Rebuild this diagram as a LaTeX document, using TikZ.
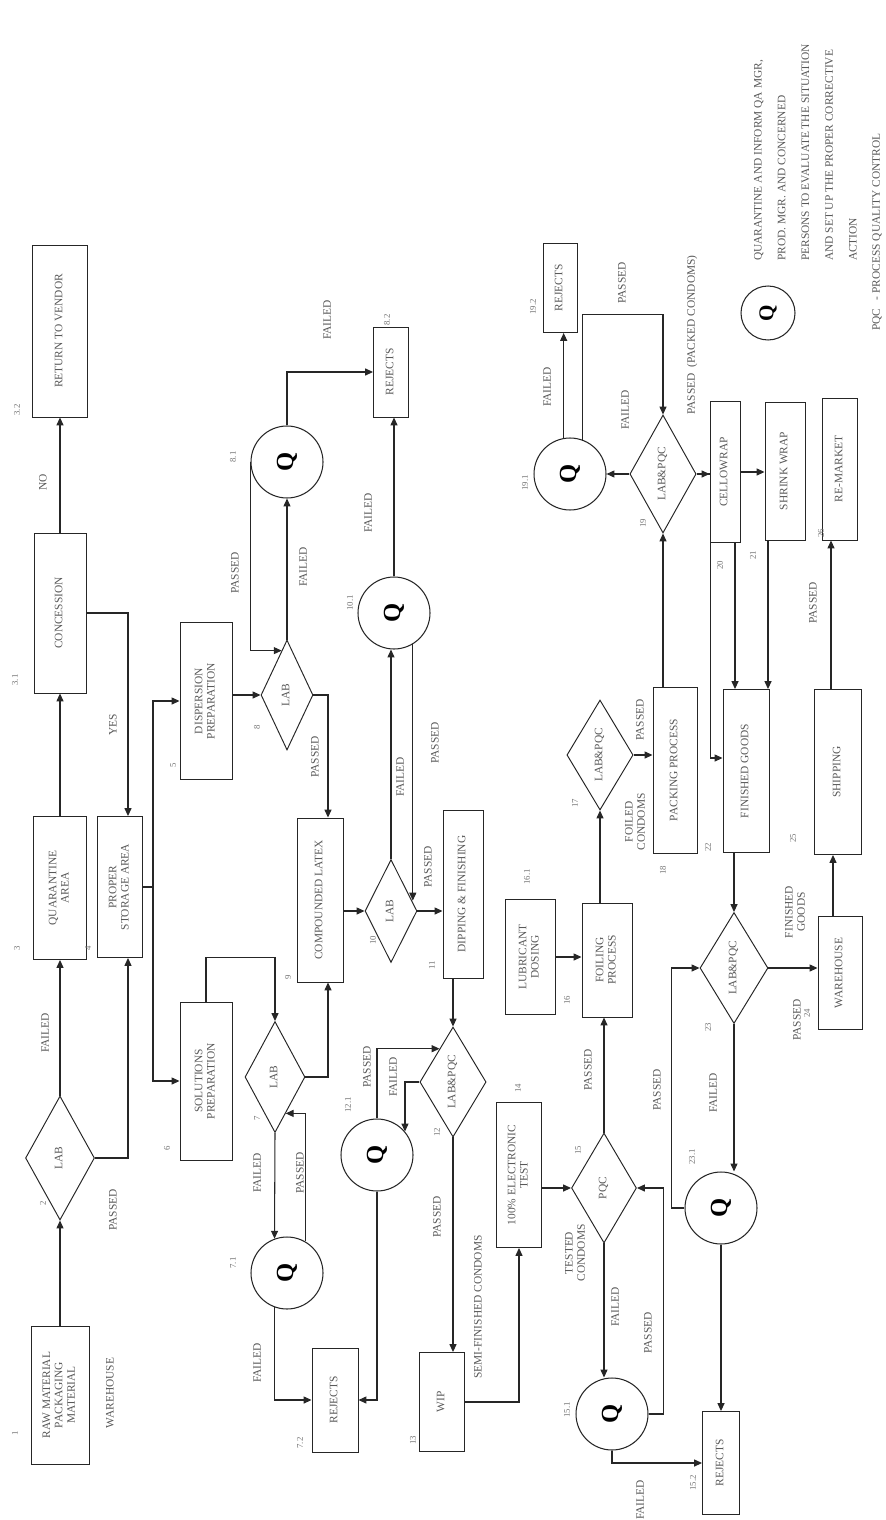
\documentclass[tikz,border=0pt]{standalone}
\usepackage{fontspec}
\setmainfont{Liberation Serif}
\usetikzlibrary{shapes.geometric, arrows.meta, calc}
\newcommand{\vt}[1]{\rotatebox{90}{\begin{tabular}{@{}c@{}}#1\end{tabular}}}

\begin{document}
\begin{tikzpicture}[
  x=0.02cm, y=-0.02cm,
  box/.style={draw=black!85, line width=0.55pt, inner sep=0pt, font=\fontsize{6.5}{7}\selectfont, text=black!65},
  dec/.style={diamond, draw=black!85, line width=0.55pt, inner sep=0pt, font=\fontsize{6.5}{7}\selectfont, text=black!65},
  qc/.style={circle, draw=black!85, line width=0.6pt, minimum size=1.44cm, inner sep=0pt, font=\fontsize{14}{14}\selectfont\bfseries},
  lbl/.style={rotate=90, font=\fontsize{6.5}{7}\selectfont, text=black!65, inner sep=1pt, align=center},
  num/.style={rotate=90, font=\fontsize{5}{6}\selectfont, text=black!55, inner sep=0pt},
  arr/.style={-{Triangle[length=4.5pt,width=4pt]}, draw=black!85, line width=0.6pt},
]
  \useasboundingbox (0,0) rectangle (885,1520);

  % Raw material column
  \node[box, minimum width=1.16cm, minimum height=2.76cm] (raw) at (60,1395) {\vt{RAW MATERIAL\\PACKAGING\\MATERIAL}};
  \node[dec, minimum width=1.38cm, minimum height=2.48cm] (lab2) at (60,1158) {\vt{LAB}};
  \node[box, minimum width=1.06cm, minimum height=2.86cm] (quar) at (60,888) {\vt{QUARANTINE\\AREA}};
  \node[box, minimum width=1.04cm, minimum height=3.2cm] (conc) at (60,613) {\vt{CONCESSION}};
  \node[box, minimum width=1.1cm, minimum height=3.44cm] (ret) at (60,331) {\vt{RETURN TO VENDOR}};
  \node[box, minimum width=0.9cm, minimum height=2.82cm] (stor) at (120,887) {\vt{PROPER\\STORAGE AREA}};

  % Preparation
  \node[box, minimum width=1.04cm, minimum height=3.16cm] (sol) at (206,1081) {\vt{SOLUTIONS\\PREPARATION}};
  \node[box, minimum width=1.04cm, minimum height=3.14cm] (disp) at (206,701) {\vt{DISPERSION\\PREPARATION}};
  \node[dec, minimum width=1.2cm, minimum height=2.22cm] (lab7) at (275,1077) {\vt{LAB}};
  \node[dec, minimum width=1.04cm, minimum height=2.2cm] (lab8) at (287,695) {\vt{LAB}};
  \node[qc] (q71) at (287,1273) {\rotatebox{90}{Q}};
  \node[qc] (q81) at (287,462) {\rotatebox{90}{Q}};
  \node[box, minimum width=0.92cm, minimum height=2.08cm] (rej72) at (335,1400) {\vt{REJECTS}};
  \node[box, minimum width=0.7cm, minimum height=1.8cm] (rej82) at (391,372) {\vt{REJECTS}};

  % Compounding and dipping
  \node[box, minimum width=0.92cm, minimum height=3.28cm] (comp) at (320,900) {\vt{COMPOUNDED LATEX}};
  \node[dec, minimum width=1.04cm, minimum height=2.06cm] (lab10) at (391,911) {\vt{LAB}};
  \node[qc] (q101) at (394,613) {\rotatebox{90}{Q}};
  \node[box, minimum width=0.8cm, minimum height=3.36cm] (dip) at (463,894) {\vt{DIPPING \& FINISHING}};
  \node[dec, minimum width=1.06cm, minimum height=2.2cm] (lq12) at (453,1082) {\vt{LAB\&PQC}};
  \node[qc] (q121) at (377,1155) {\rotatebox{90}{Q}};
  \node[box, minimum width=0.9cm, minimum height=1.98cm] (wip) at (442,1402) {\vt{WIP}};

  % Testing and foiling
  \node[box, minimum width=0.9cm, minimum height=2.9cm] (elec) at (519,1175) {\vt{100\% ELECTRONIC\\TEST}};
  \node[dec, minimum width=1.3cm, minimum height=2.2cm] (pqc15) at (604,1188) {\vt{PQC}};
  \node[qc] (q151) at (612,1414) {\rotatebox{90}{Q}};
  \node[box, minimum width=0.74cm, minimum height=2.06cm] (rej152) at (721,1463) {\vt{REJECTS}};
  \node[box, minimum width=1.0cm, minimum height=2.3cm] (lub) at (530,957) {\vt{LUBRICANT\\DOSING}};
  \node[box, minimum width=1.0cm, minimum height=2.28cm] (foil) at (607,960) {\vt{FOILING\\PROCESS}};
  \node[dec, minimum width=1.28cm, minimum height=2.2cm] (lq17) at (600,755) {\vt{LAB\&PQC}};

  % Packing
  \node[box, minimum width=0.88cm, minimum height=3.32cm] (pack) at (675,770) {\vt{PACKING PROCESS}};
  \node[dec, minimum width=1.04cm, minimum height=2.36cm] (lq19) at (663,474) {\vt{LAB\&PQC}};
  \node[qc] (q191) at (570,474) {\rotatebox{90}{Q}};
  \node[box, minimum width=0.68cm, minimum height=1.78cm] (rej192) at (560,288) {\vt{REJECTS}};
  \node[box, minimum width=0.6cm, minimum height=2.82cm] (cello) at (725,472) {\vt{CELLOWRAP}};
  \node[box, minimum width=0.8cm, minimum height=2.76cm] (shrink) at (785,471) {\vt{SHRINK WRAP}};

  % Finished goods
  \node[box, minimum width=0.92cm, minimum height=3.26cm] (fin) at (746,771) {\vt{FINISHED GOODS}};
  \node[dec, minimum width=1.36cm, minimum height=2.22cm] (lq23) at (734,968) {\vt{LAB\&PQC}};
  \node[qc] (q231) at (721,1208) {\rotatebox{90}{Q}};
  \node[box, minimum width=0.88cm, minimum height=2.26cm] (ware) at (840,973) {\vt{WAREHOUSE}};
  \node[box, minimum width=0.94cm, minimum height=3.3cm] (ship) at (838,772) {\vt{SHIPPING}};
  \node[box, minimum width=0.7cm, minimum height=2.84cm] (remk) at (840,469) {\vt{RE-MARKET}};

  % Connections
  \draw[arr] (raw) -- (lab2);
  \draw[arr] (lab2) -- (quar);
  \draw[arr] (quar) -- (conc);
  \draw[arr] (conc) -- (ret);
  \draw[arr] (conc.east) -| ([xshift=0.16cm]stor.north);
  \draw[arr] (lab2.east) -| ([xshift=0.16cm]stor.south);
  \draw[arr] (stor.east) -- ++(10,0) |- (disp.west);
  \draw[arr] (stor.east) -- ++(10,0) |- (sol.west);

  \draw[arr] (sol.north) -- ++(0,-44) -| (lab7.north);
  \draw[arr] (lab7.south) -- (q71.110);
  \coordinate (p7) at ($(lab7.south)!0.35!(lab7.east)$);
  \draw[arr] (q71.60) |- (p7);
  \draw[arr] (q71.-110) |- (rej72.west);
  \draw[arr] (lab7.east) -| ([xshift=0.16cm]comp.south);

  \draw[arr] (disp.east |- lab8.west) -- (lab8.west);
  \draw[arr] (lab8.north) -- (q81.south);
  \draw[arr] (q81.north) |- (rej82.west);
  \coordinate (p8) at ($(lab8.west)!0.8!(lab8.north)$);
  \draw[arr] (q81.west) |- (p8);
  \draw[arr] (lab8.east) -| ([xshift=0.16cm]comp.north);

  \draw[arr] (comp.east |- lab10.west) -- (lab10.west);
  \draw[arr] (lab10.north) -- (lab10.north |- q101.south);
  \coordinate (p10) at ($(lab10.north)!0.8!(lab10.east)$);
  \draw[arr] (q101.-59) -- (q101.-59 |- p10);
  \draw[arr] (q101.north) -- (q101.north |- rej82.south);
  \draw[arr] (lab10.east) -- (lab10.east -| dip.west);
  \draw[arr] (lq12.north |- dip.south) -- (lq12.north);

  \draw[arr] (lq12.south) -- (lq12.south |- wip.north);
  \coordinate (p12) at ($(lq12.west)!0.6!(lq12.north)$);
  \draw[arr] (q121.north) |- (p12);
  \draw[arr] (lq12.west) -| (q121.40);
  \draw[arr] (q121.south) |- (rej72.east);

  \draw[arr] (wip.east) -| (elec.south);
  \draw[arr] (elec.east |- pqc15.west) -- (pqc15.west);
  \draw[arr] (pqc15.south) -- (pqc15.south |- q151.north);
  \draw[arr] (q151.east) -- ++(15,0) |- (pqc15.east);
  \draw[arr] (q151.south) |- (rej152.west);
  \draw[arr] (pqc15.north) -- (pqc15.north |- foil.south);

  \draw[arr] (lub.east) -- (lub.east -| foil.west);
  \draw[arr] (lq17.south |- foil.north) -- (lq17.south);
  \draw[arr] (lq17.east) -- (lq17.east -| pack.west);
  \draw[arr] (lq19.south |- pack.north) -- (lq19.south);
  \draw[arr] (lq19.west) -- (q191.east);
  \draw[arr] (q191.100) -- (q191.100 |- rej192.south);
  \draw[arr] (q191.70) -- ++(0,-125) -| (lq19.north);
  \draw[arr] (lq19.east) -- (lq19.east -| cello.west);
  \draw[arr] (lq19.east) -- ++(14,0) |- ([yshift=0.26cm]fin.west);
  \draw[arr] (cello.east) -- (cello.east -| shrink.west);
  \draw[arr] ([xshift=0.2cm]cello.south) -- ([xshift=0.2cm]cello.south |- fin.north);
  \draw[arr] ([xshift=-0.34cm]shrink.south) -- ([xshift=-0.34cm]shrink.south |- fin.north);

  \draw[arr] (lq23.north |- fin.south) -- (lq23.north);
  \draw[arr] (lq23.south) -- (lq23.south |- q231.north);
  \draw[arr] (q231.west) -- ++(-13,0) |- (lq23.west);
  \draw[arr] (q231.south) -- (q231.south |- rej152.north);
  \draw[arr] (lq23.east) -- (lq23.east -| ware.west);
  \draw[arr] ([xshift=-0.14cm]ware.north) -- ([xshift=-0.14cm]ware.north |- ship.south);
  \draw[arr] ([xshift=-0.14cm]ship.north) -- ([xshift=-0.14cm]ship.north |- remk.south);

  % Labels
  \node[lbl] (tware) at (110,1393) {WAREHOUSE};
  \node[lbl] (t1) at (113,1210) {PASSED};
  \node[lbl] (t2) at (45,1033) {FAILED};
  \node[lbl] (t3) at (113,725) {YES};
  \node[lbl] (t4) at (43,482) {NO};
  \node[lbl] (t5) at (257,1173) {FAILED};
  \node[lbl] (t6) at (300,1173) {PASSED};
  \node[lbl] (t7) at (257,1363) {FAILED};
  \node[lbl] (t8) at (367,1067) {PASSED};
  \node[lbl] (t9) at (393,1077) {FAILED};
  \node[lbl] (t10) at (437,1217) {PASSED};
  \node[lbl] (t11) at (478,1307) {SEMI-FINISHED CONDOMS};
  \node[lbl] (t12) at (575,1253) {TESTED\\CONDOMS};
  \node[lbl] (t13) at (615,1307) {FAILED};
  \node[lbl] (t14) at (648,1333) {PASSED};
  \node[lbl] (t15) at (640,1500) {FAILED};
  \node[lbl] (t16) at (588,1070) {PASSED};
  \node[lbl] (t17) at (635,822) {FOILED\\CONDOMS};
  \node[lbl] (t18) at (640,720) {PASSED};
  \node[lbl] (t19) at (547,387) {FAILED};
  \node[lbl] (t20) at (622,283) {PASSED};
  \node[lbl] (t21) at (625,410) {FAILED};
  \node[lbl] (t22) at (692,335) {PASSED \ (PACKED CONDOMS)};
  \node[lbl] (t23) at (657,1090) {PASSED};
  \node[lbl] (t24) at (713,1093) {FAILED};
  \node[lbl] (t25) at (795,912) {FINISHED\\GOODS};
  \node[lbl] (t26) at (797,1020) {PASSED};
  \node[lbl] (t27) at (813,603) {PASSED};
  \node[lbl] (t28) at (315,757) {PASSED};
  \node[lbl] (t29) at (303,567) {FAILED};
  \node[lbl] (t30) at (235,573) {PASSED};
  \node[lbl] (t31) at (327,320) {FAILED};
  \node[lbl] (t32) at (400,777) {FAILED};
  \node[lbl] (t33) at (435,743) {PASSED};
  \node[lbl] (t34) at (428,867) {PASSED};
  \node[lbl] (t35) at (368,513) {FAILED};

  % Step numbers
  \node[num] (n1) at (15,1433) {1};
  \node[num] (n2) at (43,1203) {2};
  \node[num] (n3) at (17,948) {3};
  \node[num] (n31) at (15,680) {3.1};
  \node[num] (n32) at (17,410) {3.2};
  \node[num] (n4) at (88,948) {4};
  \node[num] (n5) at (173,765) {5};
  \node[num] (n6) at (167,1148) {6};
  \node[num] (n7) at (257,1118) {7};
  \node[num] (n71) at (233,1263) {7.1};
  \node[num] (n72) at (300,1443) {7.2};
  \node[num] (n8) at (257,727) {8};
  \node[num] (n81) at (233,457) {8.1};
  \node[num] (n82) at (387,320) {8.2};
  \node[num] (n9) at (288,977) {9};
  \node[num] (n10) at (373,940) {10};
  \node[num] (n101) at (350,603) {10.1};
  \node[num] (n11) at (432,965) {11};
  \node[num] (n12) at (437,1132) {12};
  \node[num] (n121) at (348,1105) {12.1};
  \node[num] (n13) at (413,1440) {13};
  \node[num] (n14) at (518,1088) {14};
  \node[num] (n15) at (578,1150) {15};
  \node[num] (n151) at (567,1410) {15.1};
  \node[num] (n152) at (693,1483) {15.2};
  \node[num] (n16) at (567,1000) {16};
  \node[num] (n161) at (527,877) {16.1};
  \node[num] (n17) at (575,803) {17};
  \node[num] (n18) at (663,870) {18};
  \node[num] (n19) at (643,523) {19};
  \node[num] (n191) at (525,483) {19.1};
  \node[num] (n192) at (533,307) {19.2};
  \node[num] (n20) at (720,565) {20};
  \node[num] (n21) at (753,555) {21};
  \node[num] (n22) at (708,847) {22};
  \node[num] (n23) at (708,1027) {23};
  \node[num] (n231) at (692,1157) {23.1};
  \node[num] (n24) at (807,1013) {24};
  \node[num] (n25) at (793,838) {25};
  \node[num] (n26) at (821,533) {26};

  % Legend
  \node[qc, minimum size=1.08cm, font=\fontsize{12}{12}\selectfont\bfseries] (qleg) at (768,313) {\rotatebox{90}{Q}};
  \node[lbl, align=left, anchor=north west, font=\fontsize{6.5}{13.5}\selectfont] (legtxt) at (752,263)
    {QUARANTINE AND INFORM QA MGR,\\PROD. MGR. AND CONCERNED\\PERSONS TO EVALUATE THE SITUATION\\AND SET UP THE PROPER CORRECTIVE\\ACTION};
  \node[lbl, anchor=west] (legpqc) at (877,333) {PQC \ \ - PROCESS QUALITY CONTROL};
\end{tikzpicture}
\end{document}
